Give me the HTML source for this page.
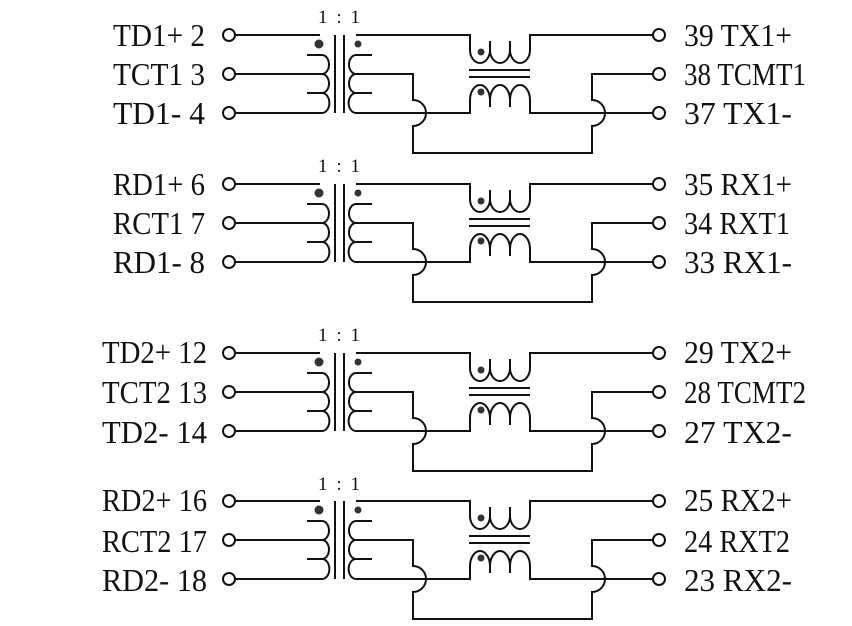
<!DOCTYPE html>
<html><head><meta charset="utf-8"><style>
html,body{margin:0;padding:0;background:#fff;}
svg{display:block;}
text{font-family:"Liberation Serif",serif;font-size:32px;fill:#111;}
.r{font-size:19px;}
</style></head><body>
<svg width="852" height="626" viewBox="0 0 852 626" xmlns="http://www.w3.org/2000/svg">
<defs>
<g id="blk" fill="none" stroke="#111" stroke-width="2">
  <circle cx="229" cy="35" r="6"/><circle cx="229" cy="74" r="6"/><circle cx="229" cy="113" r="6"/>
  <circle cx="659" cy="35" r="6"/><circle cx="659" cy="74" r="6"/><circle cx="659" cy="113" r="6"/>
  <path d="M235 35H320M235 74H322M235 113H322"/>
  <path d="M322 55A7 9.5 0 0 1 322 74A7 9.5 0 0 1 322 93A7 9.5 0 0 1 322 113"/>
  <path d="M307 55H322M307 93H322"/>
  <path d="M335 35V113M344 35V113"/>
  <path d="M356 55A7 9.5 0 0 0 356 74A7 9.5 0 0 0 356 93A7 9.5 0 0 0 356 113"/>
  <path d="M356 55H372M356 93H372"/>
  <path d="M356 35H470V50A10 13 0 0 0 490 50A10 13 0 0 0 510 50A10 13 0 0 0 530 50V35H653"/>
  <path d="M490 50V41M510 50V41"/>
  <path d="M469 70H530M469 77H530"/>
  <path d="M356 113H470V100A10 15 0 0 1 490 100A10 15 0 0 1 510 100A10 15 0 0 1 530 100V113H653"/>
  <path d="M490 100V107M510 100V107"/>
  <path d="M356 74H413V100A13 13 0 0 1 413 126V153H592V126A13 13 0 0 0 592 100V74H653"/>
  <circle cx="319" cy="44" r="4.5" fill="#333" stroke="none"/>
  <circle cx="358" cy="44" r="3.5" fill="#333" stroke="none"/>
  <circle cx="481" cy="52" r="3.5" fill="#333" stroke="none"/>
  <circle cx="481" cy="92" r="3.5" fill="#333" stroke="none"/>
</g>
</defs>
<use href="#blk"/>
<use href="#blk" transform="translate(0,149)"/>
<use href="#blk" transform="translate(0,318)"/>
<use href="#blk" transform="translate(0,466)"/>

<text class="r" x="318" y="23" textLength="42" lengthAdjust="spacing">1 : 1</text>
<text class="r" x="318" y="172" textLength="42" lengthAdjust="spacing">1 : 1</text>
<text class="r" x="318" y="341" textLength="42" lengthAdjust="spacing">1 : 1</text>
<text class="r" x="318" y="490" textLength="42" lengthAdjust="spacing">1 : 1</text>

<g>
<text x="113" y="46" textLength="92" lengthAdjust="spacingAndGlyphs">TD1+ 2</text>
<text x="113" y="85" textLength="92" lengthAdjust="spacingAndGlyphs">TCT1 3</text>
<text x="113" y="124" textLength="92" lengthAdjust="spacingAndGlyphs">TD1- 4</text>
<text x="113" y="195" textLength="92" lengthAdjust="spacingAndGlyphs">RD1+ 6</text>
<text x="113" y="234" textLength="92" lengthAdjust="spacingAndGlyphs">RCT1 7</text>
<text x="113" y="273" textLength="92" lengthAdjust="spacingAndGlyphs">RD1- 8</text>
<text x="102" y="363" textLength="105" lengthAdjust="spacingAndGlyphs">TD2+ 12</text>
<text x="102" y="403" textLength="105" lengthAdjust="spacingAndGlyphs">TCT2 13</text>
<text x="102" y="443" textLength="105" lengthAdjust="spacingAndGlyphs">TD2- 14</text>
<text x="102" y="511" textLength="105" lengthAdjust="spacingAndGlyphs">RD2+ 16</text>
<text x="102" y="552" textLength="105" lengthAdjust="spacingAndGlyphs">RCT2 17</text>
<text x="102" y="591" textLength="105" lengthAdjust="spacingAndGlyphs">RD2- 18</text>

<text x="684" y="46" textLength="108" lengthAdjust="spacingAndGlyphs">39 TX1+</text>
<text x="684" y="85" textLength="122" lengthAdjust="spacingAndGlyphs">38 TCMT1</text>
<text x="684" y="124" textLength="108" lengthAdjust="spacingAndGlyphs">37 TX1-</text>
<text x="684" y="195" textLength="108" lengthAdjust="spacingAndGlyphs">35 RX1+</text>
<text x="684" y="234" textLength="106" lengthAdjust="spacingAndGlyphs">34 RXT1</text>
<text x="684" y="273" textLength="108" lengthAdjust="spacingAndGlyphs">33 RX1-</text>
<text x="684" y="363" textLength="108" lengthAdjust="spacingAndGlyphs">29 TX2+</text>
<text x="684" y="403" textLength="122" lengthAdjust="spacingAndGlyphs">28 TCMT2</text>
<text x="684" y="443" textLength="108" lengthAdjust="spacingAndGlyphs">27 TX2-</text>
<text x="684" y="511" textLength="108" lengthAdjust="spacingAndGlyphs">25 RX2+</text>
<text x="684" y="552" textLength="106" lengthAdjust="spacingAndGlyphs">24 RXT2</text>
<text x="684" y="591" textLength="108" lengthAdjust="spacingAndGlyphs">23 RX2-</text>
</g>
</svg>
</body></html>
